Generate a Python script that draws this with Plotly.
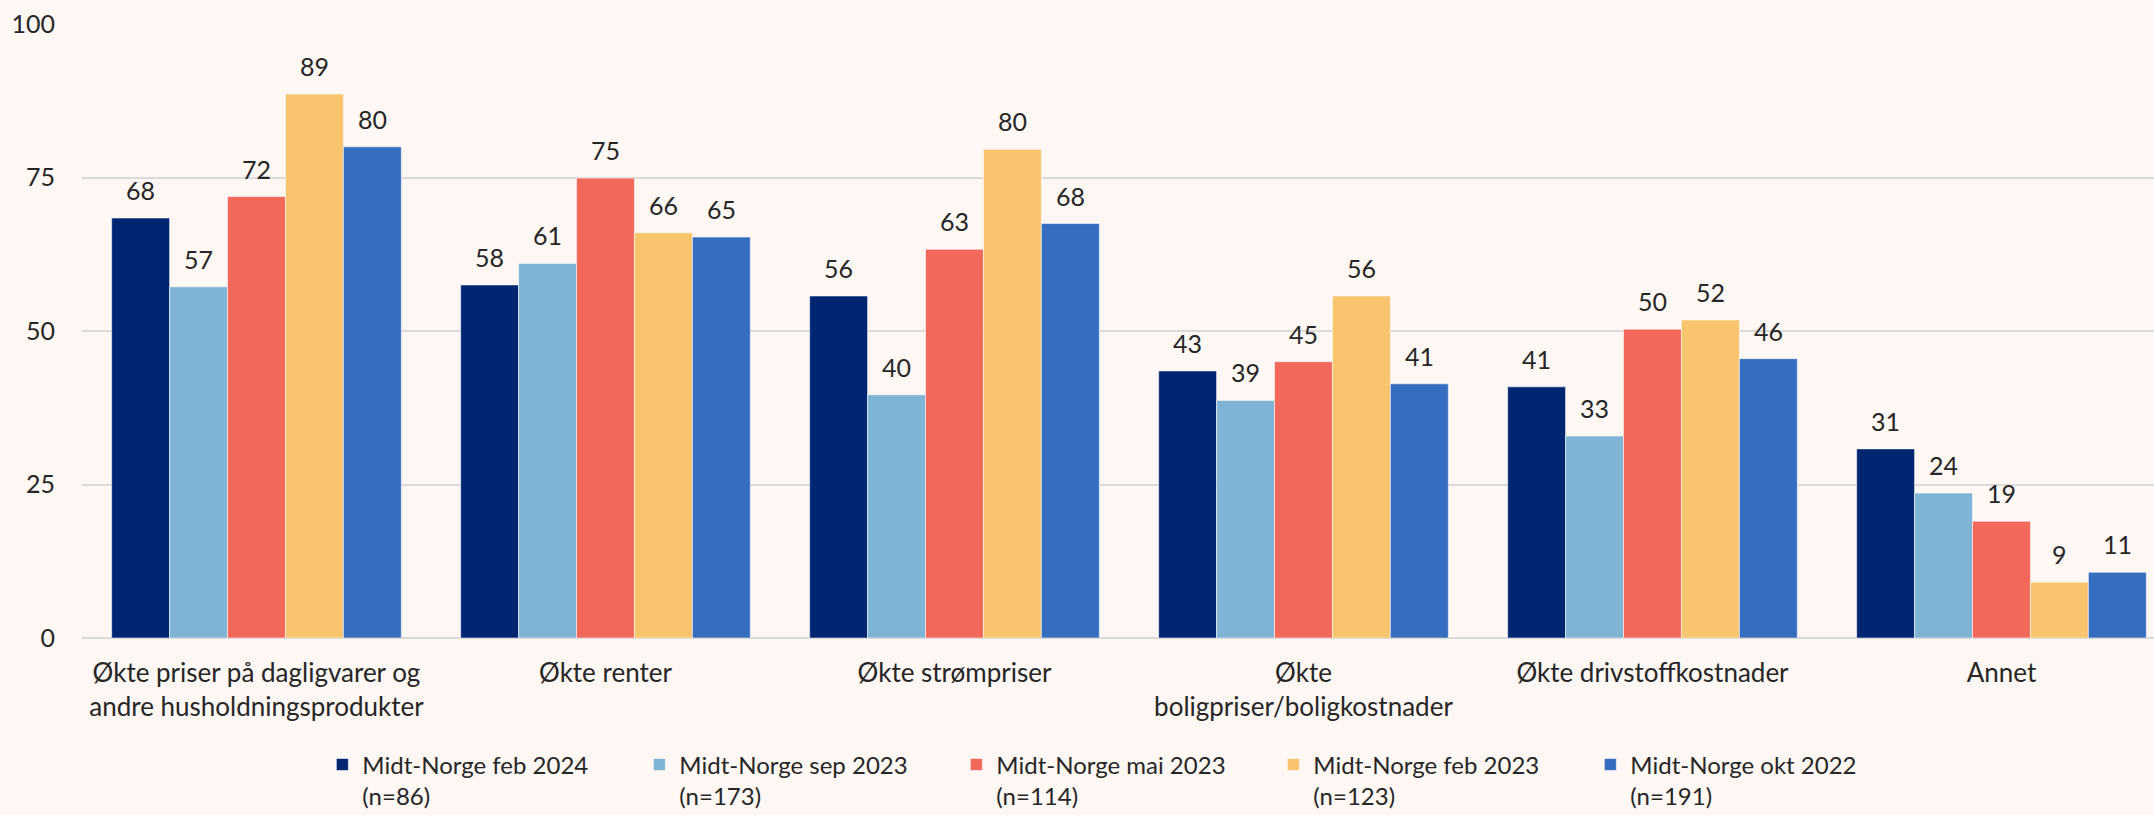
import plotly.graph_objects as go

categories = [
    "Økte priser på dagligvarer og<br>andre husholdningsprodukter",
    "Økte renter",
    "Økte strømpriser",
    "Økte<br>boligpriser/boligkostnader",
    "Økte drivstoffkostnader",
    "Annet",
]
series_names = [
    "Midt-Norge feb 2024<br>(n=86)",
    "Midt-Norge sep 2023<br>(n=173)",
    "Midt-Norge mai 2023<br>(n=114)",
    "Midt-Norge feb 2023<br>(n=123)",
    "Midt-Norge okt 2022<br>(n=191)",
]
feb2024 = [68.4, 57.5, 55.7, 43.5, 40.9, 30.8]
sep2023 = [57.2, 61.0, 39.6, 38.7, 32.9, 23.6]
mai2023 = [71.9, 74.9, 63.3, 45.0, 50.3, 19.0]
feb2023 = [88.6, 66.0, 79.6, 55.7, 51.8, 9.1]
okt2022 = [80.0, 65.3, 67.5, 41.4, 45.5, 10.7]
labels = [
    [68, 58, 56, 43, 41, 31],
    [57, 61, 40, 39, 33, 24],
    [72, 75, 63, 45, 50, 19],
    [89, 66, 80, 56, 52, 9],
    [80, 65, 68, 41, 46, 11],
]
colors = ["#002672", "#7FB4D4", "#F2695C", "#F9C46E", "#356DBF"]
y_ticks = [0, 25, 50, 75, 100]

all_values = [feb2024, sep2023, mai2023, feb2023, okt2022]
x = list(range(len(categories)))

BG = "#FEF7F4"
TXT = "#262626"
FONT = "Lato, Open Sans, sans-serif"
bargap = 0.17
n = len(all_values)
w = (1 - bargap) / n

fig = go.Figure()
annotations = []
for i, (name, vals, col) in enumerate(zip(series_names, all_values, colors)):
    fig.add_trace(go.Bar(
        x=x, y=vals, name=name,
        marker=dict(color=col, line=dict(color="rgba(255,255,255,0.55)", width=1)),
        hoverinfo="skip",
    ))
    off = (i - (n - 1) / 2) * w
    for xi, v, lab in zip(x, vals, labels[i]):
        annotations.append(dict(
            x=xi + off, y=v, xref="x", yref="y", text=str(lab),
            showarrow=False, yanchor="middle", yshift=28,
            font=dict(family=FONT, size=25, color=TXT),
        ))

fig.update_layout(
    width=2154, height=815,
    barmode="group", bargap=bargap, bargroupgap=0,
    paper_bgcolor=BG, plot_bgcolor=BG,
    margin=dict(l=82, r=0, t=24, b=177, autoexpand=False),
    font=dict(family=FONT, size=24, color=TXT),
    annotations=annotations,
    legend=dict(
        orientation="h", x=0.116, xanchor="left", y=-0.17, yanchor="top",
        font=dict(family=FONT, size=24, color=TXT),
        entrywidth=272, entrywidthmode="pixels", valign="top",
        bgcolor="rgba(0,0,0,0)", traceorder="normal",
    ),
    showlegend=True,
)
fig.update_xaxes(
    tickmode="array", tickvals=x, ticktext=categories,
    range=[-0.5, 5.437], showgrid=False, zeroline=False, automargin=False,
    showline=False, ticks="outside", ticklen=12, tickcolor="rgba(0,0,0,0)",
    tickfont=dict(family=FONT, size=26, color=TXT),
)
fig.update_yaxes(
    range=[0, 100], tickmode="array", tickvals=y_ticks, automargin=False,
    showgrid=True, gridcolor="#DCDAD8", gridwidth=2,
    zeroline=True, zerolinecolor="#DCDAD8", zerolinewidth=2,
    ticklabelstandoff=26, showline=False,
    tickfont=dict(family=FONT, size=25, color=TXT),
)

fig.write_html(
    "out.html",
    config={"displayModeBar": False},
    post_script="document.body.style.margin='0';document.body.style.background='#FEF7F4';document.body.style.overflow='hidden';",
)
